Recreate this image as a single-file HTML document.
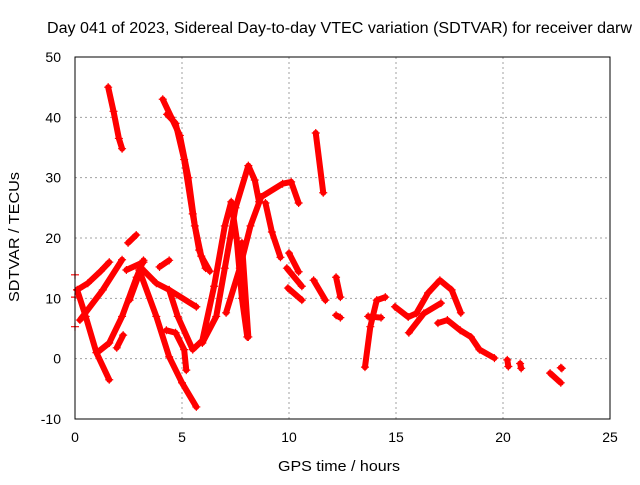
<!DOCTYPE html>
<html><head><meta charset="utf-8"><style>
body{margin:0;background:#fff}
svg text{font-family:"Liberation Sans",sans-serif;fill:#000}
</style></head><body>
<svg id="chart" width="640" height="480" viewBox="0 0 640 480" xmlns="http://www.w3.org/2000/svg">
<rect width="640" height="480" fill="#fff"/>
<text x="47" y="33" font-size="15.5" textLength="585" lengthAdjust="spacingAndGlyphs">Day 041 of 2023, Sidereal Day-to-day VTEC variation (SDTVAR) for receiver darw</text>
<g id="grid"></g>
<g id="ticks"></g>
<g id="series"></g>
<rect x="75" y="57" width="535" height="362" fill="none" stroke="#000" stroke-width="1"/>
<text transform="translate(19,237) rotate(-90)" font-size="15" text-anchor="middle" textLength="130" lengthAdjust="spacingAndGlyphs">SDTVAR / TECUs</text>
<text x="339" y="471" font-size="15" text-anchor="middle" textLength="122" lengthAdjust="spacingAndGlyphs">GPS time / hours</text>
</svg>
<script>
const xTicks=[0,5,10,15,20,25];
const yTicks=[-10,0,10,20,30,40,50];
const trackA=[[1.55,45],[1.8,41],[2.05,36.5],[2.2,34.8]];
const trackB=[[4.1,43],[4.5,40],[4.9,37],[5.3,30],[5.6,22],[5.9,17],[6.3,14.5]];
const trackB2=[[4.3,40.5],[4.7,39],[5.1,33],[5.5,24],[5.8,18],[6.1,15]];
const trackC=[[4.4,11.4],[4.8,7],[5.5,1.5],[5.95,3],[6.5,12],[7.0,22],[7.3,26],[7.55,20],[7.8,10],[8.05,3.6]];
const trackD=[[5.95,2.6],[6.6,7],[7.0,15],[7.5,25],[8.1,32],[8.4,29.6],[8.6,26]];
const trackD2=[[7.06,7.6],[7.7,15],[8.2,22],[8.7,26.8],[9.7,29],[10.1,29.3],[10.45,25.8]];
const trackE=[[8.9,25.8],[9.2,21],[9.6,16.8]];
const trackF1=[[10.0,17.5],[10.45,14.4]];
const trackF2=[[9.9,15],[10.6,12]];
const trackF3=[[9.95,11.7],[10.6,9.7]];
const trackG=[[0.1,11.4],[0.6,12.5],[1.2,14.5],[1.6,16]];
const trackH=[[0.1,11.4],[0.5,7],[1.0,1],[1.6,-3.5]];
const trackI=[[1.07,1.1],[1.6,2.6],[2.2,7],[2.88,13.5],[3.2,16.3]];
const trackJ=[[0.23,6.4],[1.3,11.4],[2.2,16.4]];
const trackK=[[3.0,14.7],[3.8,7],[4.4,0.3],[5.0,-4],[5.67,-8]];
const trackL=[[2.55,9.7],[3.1,15],[3.8,12.5],[4.4,11.4],[5.67,8.6]];
const trackM=[[4.27,4.7],[4.7,4.3],[5.1,1.5],[5.2,-1.9]];
const trackN=[[2.4,14.7],[3.2,16]];
const trackN2=[[3.95,15.2],[4.4,16.3]];
const trackO=[[2.48,19.2],[2.86,20.5]];
const trackP=[[1.95,1.8],[2.25,3.9]];
const trackR=[[7.8,19.2],[8.1,3.6]];
const trackS=[[11.25,37.4],[11.6,27.5]];
const trackU1=[[11.15,13],[11.7,9.7]];
const trackU2=[[12.2,13.5],[12.4,10.2]];
const trackU3=[[12.2,7.2],[12.4,6.8]];
const trackV=[[13.55,-1.4],[13.8,5.3],[14.1,9.7],[14.5,10.2]];
const trackW=[[13.7,7],[14.3,6.8]];
const trackX=[[14.95,8.6],[15.57,6.9],[15.95,7.5],[16.5,10.9],[17.05,13],[17.6,11.4],[18.03,7.6]];
const trackY=[[15.6,4.3],[16.3,7.5],[17.1,9.2]];
const trackZ=[[16.96,5.9],[17.4,6.4],[18.0,4.7],[18.5,3.6],[18.9,1.5],[19.6,0.1]];
const trackZ2=[[20.2,-0.2],[20.25,-1.3]];
const trackZ3=[[20.8,-0.8],[20.85,-1.6]];
const trackZ4=[[22.2,-2.4],[22.7,-4]];
const trackZ5=[[22.7,-1.5],[22.75,-1.6]];
const edgePoints=[[0,13.9],[0,10.2],[0,5.3]];
const tracks=[trackA,trackB,trackB2,trackC,trackD,trackD2,trackE,trackF1,trackF2,trackF3,trackG,trackH,trackI,trackJ,trackK,trackL,trackM,trackN,trackN2,trackO,trackP,trackR,trackS,trackU1,trackU2,trackU3,trackV,trackW,trackX,trackY,trackZ,trackZ2,trackZ3,trackZ4,trackZ5];

const X0=75,X1=610,Y0=419,Y1=57;
const xs=v=>X0+(v-0)/(25-0)*(X1-X0);
const ys=v=>Y0-(v+10)/(60)*(Y0-Y1);
const NS="http://www.w3.org/2000/svg";
const grid=document.getElementById('grid'),ticks=document.getElementById('ticks'),ser=document.getElementById('series');
function mk(t,a,p){const e=document.createElementNS(NS,t);for(const k in a)e.setAttribute(k,a[k]);p.appendChild(e);return e;}
xTicks.forEach(t=>{
  const x=xs(t);
  if(t>0&&t<25){const g=mk('line',{x1:x,x2:x,y1:Y1,y2:Y0,stroke:'#a0a0a0','stroke-dasharray':'2,3'},grid);
  
  }
  const l=mk('text',{x:x,y:442,'font-size':'14','text-anchor':'middle'},ticks);l.textContent=t;
  
  
});
yTicks.forEach(t=>{
  const y=ys(t);
  if(t>-10&&t<50){const g=mk('line',{x1:X0,x2:X1,y1:y,y2:y,stroke:'#a0a0a0','stroke-dasharray':'2,3'},grid);
  
  }
  const l=mk('text',{x:61,y:y+5,'font-size':'14','text-anchor':'end'},ticks);l.textContent=t;
  
  
});
function plus(h,v){
  const x=xs(h),y=ys(v);
  const p=mk('path',{d:`M${x-4},${y}H${x+4}M${x},${y-4}V${y+4}`,stroke:'#f00','stroke-width':1.2,fill:'none'},ser);
  
  
}
tracks.forEach(tr=>{
  const pl=mk('polyline',{points:tr.map(p=>xs(p[0])+','+ys(p[1])).join(' '),fill:'none',stroke:'#f00','stroke-width':6,'stroke-linejoin':'round','stroke-linecap':'round'},ser);
  
  
  tr.forEach(p=>plus(p[0],p[1]));
});
edgePoints.forEach(p=>plus(p[0],p[1]));
</script>
</body></html>
